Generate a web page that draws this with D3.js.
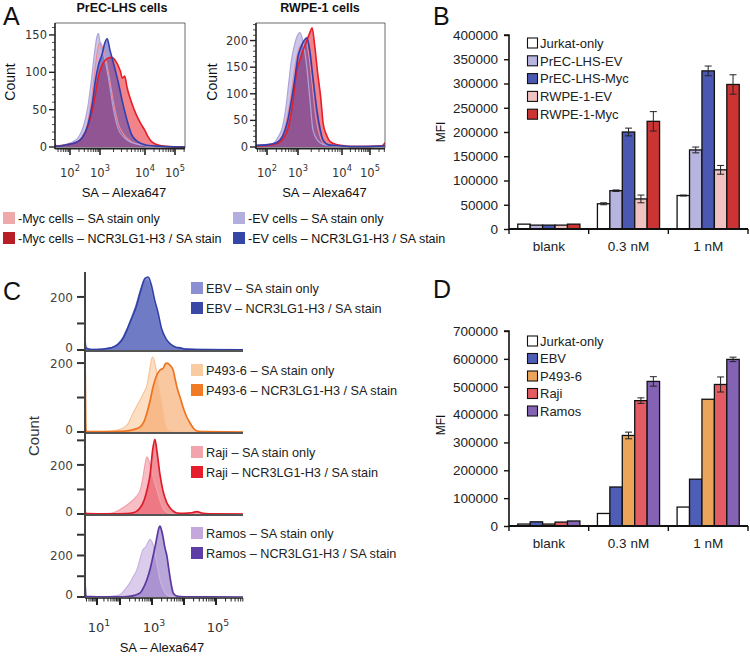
<!DOCTYPE html>
<html><head><meta charset="utf-8">
<script src="https://cdn.jsdelivr.net/npm/d3@7"></script>
<style>body{margin:0;background:#fff}svg{display:block}</style>
</head><body><svg id="c" width="750" height="657"></svg>
<script>
// ---------------- DATA ----------------
// Panel A: flow histograms, points are [log10(SA-Alexa647), count]
const aCells = ["PrEC-LHS cells", "RWPE-1 cells"];
const aLegend = ["-Myc cells \u2013 SA stain only", "-Myc cells \u2013 NCR3LG1-H3 / SA stain",
                 "-EV cells \u2013 SA stain only", "-EV cells \u2013 NCR3LG1-H3 / SA stain"];
const aPrecEvSA = [[1.5,1],[1.7,2],[1.9,4],[2.1,7],[2.3,14],[2.45,28],[2.6,55],[2.7,85],[2.8,120],[2.9,148],[2.95,152],[3.0,140],[3.1,120],[3.2,88],[3.3,50],[3.4,25],[3.55,12],[3.7,6],[3.9,3],[4.2,1],[4.6,1],[5.33,0]];
const aPrecEvNCR = [[1.5,4],[1.55,1],[1.9,3],[2.2,6],[2.4,12],[2.6,30],[2.75,60],[2.85,90],[2.95,110],[3.05,125],[3.1,138],[3.16,145],[3.22,130],[3.3,112],[3.4,88],[3.5,60],[3.6,36],[3.7,17],[3.8,9],[3.9,5],[4.1,2],[4.5,1],[5.33,0]];
const aPrecMycSA = [[1.5,1],[1.9,3],[2.2,6],[2.4,12],[2.6,35],[2.75,75],[2.85,110],[2.95,135],[3.0,140],[3.1,125],[3.2,95],[3.3,60],[3.4,32],[3.55,15],[3.7,7],[3.9,3],[4.3,1],[5.33,0]];
const aPrecMycNCR = [[1.5,1],[1.9,3],[2.2,6],[2.4,12],[2.6,28],[2.8,60],[2.95,95],[3.05,110],[3.15,118],[3.25,120],[3.35,115],[3.45,102],[3.5,92],[3.55,95],[3.6,80],[3.7,60],[3.8,44],[3.9,32],[4.0,22],[4.1,14],[4.2,8],[4.35,4],[4.5,2],[4.7,1],[5.33,0]];
const aRwpeEvSA = [[1.65,3],[2.0,5],[2.2,7],[2.35,18],[2.5,38],[2.6,70],[2.7,120],[2.78,160],[2.88,190],[2.95,205],[3.05,215],[3.12,195],[3.2,150],[3.27,90],[3.34,32],[3.45,12],[3.57,5],[3.8,2],[4.5,1],[5.5,2]];
const aRwpeEvNCR = [[1.65,3],[2.0,4],[2.3,8],[2.5,20],[2.65,45],[2.78,85],[2.9,130],[3.0,170],[3.08,190],[3.14,200],[3.2,205],[3.27,180],[3.34,130],[3.43,69],[3.5,35],[3.57,13],[3.7,4],[4.0,2],[4.5,1],[5.5,2]];
const aRwpeMycSA = [[1.65,2],[2.0,4],[2.3,8],[2.5,22],[2.65,55],[2.78,100],[2.9,150],[3.0,180],[3.1,195],[3.18,200],[3.25,170],[3.32,120],[3.4,60],[3.5,20],[3.6,6],[3.8,2],[4.5,1],[5.5,3]];
const aRwpeMycNCR = [[1.65,2],[2.0,3],[2.3,6],[2.5,14],[2.7,40],[2.85,90],[2.95,140],[3.05,165],[3.11,180],[3.2,200],[3.27,215],[3.32,224],[3.38,190],[3.45,137],[3.52,90],[3.57,45],[3.65,22],[3.73,10],[3.9,4],[4.1,2],[4.5,1],[5.4,2],[5.5,8]];
const aYTicksL = [0, 50, 100, 150];
const aYTicksR = [0, 50, 100, 150, 200];
const aXTicks = [2, 3, 4, 5];

// Panel B: MFI bars
const bGroups = ["blank", "0.3 nM", "1 nM"];
const bSeries = ["Jurkat-only", "PrEC-LHS-EV", "PrEC-LHS-Myc", "RWPE-1-EV", "RWPE-1-Myc"];
const bValues = [[10000, 8000, 8000, 8000, 10000],
                 [52000, 79000, 200000, 62000, 222000],
                 [69000, 163000, 326000, 122000, 298000]];
const bErrors = [[0, 0, 0, 0, 0],
                 [2000, 1500, 8000, 8000, 20000],
                 [1000, 6000, 10000, 9000, 20000]];
const bYTicks = [0, 50000, 100000, 150000, 200000, 250000, 300000, 350000, 400000];

// Panel C: stacked flow histograms
const cLegend = [["EBV \u2013 SA stain only", "EBV \u2013 NCR3LG1-H3 / SA stain"],
                 ["P493-6 \u2013 SA stain only", "P493-6 \u2013 NCR3LG1-H3 / SA stain"],
                 ["Raji \u2013 SA stain only", "Raji \u2013 NCR3LG1-H3 / SA stain"],
                 ["Ramos \u2013 SA stain only", "Ramos \u2013 NCR3LG1-H3 / SA stain"]];
const cEbvSA = [[0.4,35],[0.45,6],[0.7,2],[1.2,3],[1.6,8],[1.9,22],[2.1,50],[2.2,75],[2.35,120],[2.5,170],[2.65,230],[2.76,262],[2.85,265],[2.95,240],[3.06,185],[3.16,140],[3.28,80],[3.42,40],[3.6,18],[3.75,9],[3.88,7],[4.0,4],[4.4,2],[5.85,1]];
const cEbvNCR = [[0.4,40],[0.45,8],[0.7,2],[1.2,3],[1.6,8],[1.9,20],[2.1,45],[2.2,70],[2.35,115],[2.5,160],[2.65,225],[2.78,270],[2.88,275],[2.98,245],[3.08,190],[3.18,145],[3.3,80],[3.45,40],[3.6,20],[3.75,10],[3.88,8],[4.0,4],[4.4,2],[5.85,1]];
const cP493SA = [[0.4,2],[1.2,1],[1.7,3],[2.0,8],[2.22,20],[2.41,55],[2.63,93],[2.75,115],[2.84,135],[2.92,175],[3.0,215],[3.03,217],[3.1,195],[3.16,165],[3.25,120],[3.34,70],[3.42,25],[3.5,6],[3.7,2],[4.2,1],[5.85,0]];
const cP493NCR = [[0.4,250],[0.45,2],[1.5,1],[2.0,2],[2.22,3],[2.45,8],[2.63,15],[2.75,30],[2.84,55],[2.95,95],[3.03,130],[3.15,165],[3.25,180],[3.35,185],[3.42,198],[3.47,200],[3.55,195],[3.66,180],[3.72,155],[3.78,130],[3.88,100],[3.97,72],[4.08,45],[4.19,26],[4.3,10],[4.41,3],[4.7,1],[5.85,0]];
const cRajiSA = [[0.4,2],[1.0,1],[1.57,3],[1.85,10],[2.09,25],[2.3,45],[2.5,70],[2.63,96],[2.72,150],[2.78,200],[2.84,233],[2.92,210],[3.0,170],[3.08,130],[3.16,96],[3.25,55],[3.34,25],[3.45,8],[3.56,3],[3.8,1],[5.85,0]];
const cRajiNCR = [[0.4,15],[0.45,2],[1.5,1],[2.2,2],[2.41,5],[2.63,25],[2.75,55],[2.84,96],[2.95,170],[3.02,260],[3.09,304],[3.16,250],[3.25,160],[3.34,96],[3.45,50],[3.56,25],[3.68,10],[3.78,4],[4.0,3],[4.25,5],[4.4,10],[4.55,4],[4.8,1],[5.85,0]];
const cRamosSA = [[0.4,20],[0.45,1],[1.13,0],[1.6,3],[2.0,10],[2.15,35],[2.31,68],[2.42,100],[2.53,132],[2.62,180],[2.72,229],[2.8,240],[2.88,265],[2.94,278],[3.0,265],[3.03,254],[3.1,205],[3.16,156],[3.25,83],[3.33,45],[3.41,20],[3.56,3],[3.8,1],[5.85,0]];
const cRamosNCR = [[0.4,80],[0.45,3],[1.0,1],[2.0,1],[2.22,2],[2.45,8],[2.63,20],[2.75,50],[2.84,83],[2.95,140],[3.03,195],[3.1,245],[3.16,293],[3.22,335],[3.25,341],[3.3,320],[3.34,293],[3.4,240],[3.47,195],[3.52,140],[3.56,98],[3.62,45],[3.66,20],[3.75,6],[3.88,2],[4.2,1],[5.85,0]];
const cXTicks = [1, 3, 5];

// Panel D: MFI bars
const dGroups = ["blank", "0.3 nM", "1 nM"];
const dSeries = ["Jurkat-only", "EBV", "P493-6", "Raji", "Ramos"];
const dValues = [[7000, 15000, 7000, 14000, 18000],
                 [45000, 140000, 325000, 450000, 519000],
                 [68000, 168000, 455000, 508000, 598000]];
const dErrors = [[0, 0, 0, 0, 0],
                 [0, 0, 12000, 10000, 17000],
                 [0, 0, 0, 27000, 8000]];
const dYTicks = [0, 100000, 200000, 300000, 400000, 500000, 600000, 700000];

// ---------------- DRAWING ----------------
const SANS = "'Liberation Sans', Arial, Helvetica, sans-serif";
const DJ = "'DejaVu Sans', Verdana, sans-serif";
const svg = d3.select("#c");
const defs = svg.append("defs");
let clipN = 0;
function clip(x0, y0, x1, y1) {
  const id = "cl" + (clipN++);
  defs.append("clipPath").attr("id", id).append("rect")
    .attr("x", x0).attr("y", y0).attr("width", x1 - x0).attr("height", y1 - y0);
  return "url(#" + id + ")";
}
function txt(g, x, y, s, size, o = {}) {
  return g.append("text").attr("x", x).attr("y", y).text(s)
    .attr("font-family", o.family || SANS).attr("font-size", size)
    .attr("font-weight", o.weight || "normal").attr("fill", o.fill || "#111")
    .attr("text-anchor", o.anchor || "start");
}
function supLabel(g, x, y, base, exp, size, fill) {
  const t = g.append("text").attr("x", x).attr("y", y).attr("text-anchor", "middle")
    .attr("font-family", DJ).attr("font-size", size).attr("fill", fill);
  t.append("tspan").text(base);
  t.append("tspan").attr("dy", -size * 0.5).attr("font-size", size * 0.72).text(exp);
}
function hist(g, x, y, curves, cp) {
  const area = d3.area().x(d => x(d[0])).y0(y(0)).y1(d => y(d[1])).curve(d3.curveMonotoneX);
  const line = d3.line().x(d => x(d[0])).y(d => y(d[1])).curve(d3.curveMonotoneX);
  const gg = g.append("g").attr("clip-path", cp);
  curves.forEach(c => gg.append("path").attr("d", area(c.data)).attr("fill", c.fill).attr("fill-opacity", c.fo));
  curves.forEach(c => gg.append("path").attr("d", line(c.data)).attr("fill", "none")
    .attr("stroke", c.stroke).attr("stroke-width", c.sw || 1.5).attr("stroke-linejoin", "round"));
}
function logTicks(lo, hi) {
  const out = [];
  for (let d = Math.floor(lo); d <= Math.ceil(hi); d++)
    for (let k = 1; k <= 9; k++) {
      const v = d + Math.log10(k);
      if (v >= lo && v <= hi) out.push({v, major: k === 1});
    }
  return out;
}

// panel letters
txt(svg, 3, 25, "A", 25);
txt(svg, 433, 25, "B", 25);
txt(svg, 3, 300, "C", 25);
txt(svg, 433, 298, "D", 25);

// ---- Panel A ----
const aPanels = [
  {title: aCells[0], xd: [1.5, 2, 3, 4, 5, 5.33], xr: [55, 70, 100, 145, 175, 185], ymax: 166,
   yticks: aYTicksL, curves: [aPrecMycSA, aPrecEvSA, aPrecMycNCR, aPrecEvNCR], countX: 11, cx: 122},
  {title: aCells[1], xd: [1.65, 2, 3, 4, 5, 5.5], xr: [256, 267, 298, 342, 370, 385], ymax: 233,
   yticks: aYTicksR, curves: [aRwpeMycSA, aRwpeEvSA, aRwpeMycNCR, aRwpeEvNCR], countX: 213, cx: 320}
];
const aStyles = [
  {fill: "#f2a6ae", fo: 0.6, stroke: "#f08a96", sw: 1.2},
  {fill: "#b0a8dc", fo: 0.65, stroke: "#ada4da", sw: 1.2},
  {fill: "#e8303a", fo: 0.6, stroke: "#e61e28", sw: 1.6},
  {fill: "#5448ac", fo: 0.55, stroke: "#3040b0", sw: 1.6}
];
aPanels.forEach(p => {
  const g = svg.append("g");
  const x = d3.scaleLinear().domain(p.xd).range(p.xr);
  const y = d3.scaleLinear().domain([0, p.ymax]).range([147, 23]);
  const X0 = p.xr[0], X1 = p.xr[p.xr.length - 1];
  hist(g, x, y, p.curves.map((d, i) => Object.assign({data: d}, aStyles[i])), clip(X0, 23, X1, 148));
  // frame
  g.append("line").attr("x1", X0).attr("x2", X1).attr("y1", 23).attr("y2", 23).attr("stroke", "#444").attr("stroke-width", 0.8);
  g.append("line").attr("x1", X1).attr("x2", X1).attr("y1", 23).attr("y2", 148).attr("stroke", "#444").attr("stroke-width", 0.8);
  g.append("line").attr("x1", X0).attr("x2", X0).attr("y1", 23).attr("y2", 149).attr("stroke", "#222").attr("stroke-width", 1.6);
  g.append("line").attr("x1", X0).attr("x2", X1).attr("y1", 148.5).attr("y2", 148.5).attr("stroke", "#222").attr("stroke-width", 1.8);
  // y ticks
  d3.range(0, p.ymax, 10).forEach(v => {
    const maj = p.yticks.includes(v);
    g.append("line").attr("x1", X0).attr("x2", X0 - (maj ? 6 : 3)).attr("y1", y(v)).attr("y2", y(v))
      .attr("stroke", "#222").attr("stroke-width", maj ? 1.4 : 0.8);
  });
  p.yticks.forEach(v => txt(g, X0 - 8, y(v) + 4, String(v), 11.5, {family: DJ, anchor: "end", fill: "#333"}));
  // x ticks
  logTicks(p.xd[0], p.xd[p.xd.length - 1]).forEach(t => {
    g.append("line").attr("x1", x(t.v)).attr("x2", x(t.v)).attr("y1", 149).attr("y2", 149 + (t.major ? 6 : 3))
      .attr("stroke", "#222").attr("stroke-width", t.major ? 1.6 : 0.9);
  });
  aXTicks.forEach(v => supLabel(g, x(v), 177, "10", String(v), 11.5, "#333"));
  txt(g, p.cx, 12, p.title, 12.5, {weight: "bold", anchor: "middle"});
  txt(g, (X0 + X1) / 2 + 4, 197, "SA \u2013 Alexa647", 13, {anchor: "middle"});
  txt(g, 0, 0, "Count", 14, {anchor: "middle"}).attr("transform", `translate(${p.countX + 4},82) rotate(-90)`);
});
// legend A
const aLegColors = ["#eeaaaa", "#b81e26", "#b2aede", "#3446a6"];
aLegend.forEach((s, i) => {
  const col = Math.floor(i / 2), row = i % 2;
  const lx = col ? 233 : 3, ly = 218 + row * 20;
  svg.append("rect").attr("x", lx).attr("y", ly - 6).attr("width", 12).attr("height", 12).attr("fill", aLegColors[i]);
  txt(svg, lx + 15, ly + 4.5, s, 12.5);
});

// ---- Bar charts B and D ----
function barChart(o) {
  const g = svg.append("g");
  const y = d3.scaleLinear().domain([0, o.ticks[o.ticks.length - 1]]).range([o.y0, o.y1]);
  const x0 = d3.scaleBand().domain(o.groups).range([509, 748]).paddingInner(0.22).paddingOuter(0.11);
  const x1 = d3.scaleBand().domain(o.series).range([0, x0.bandwidth()]);
  o.groups.forEach((grp, gi) => o.series.forEach((s, si) => {
    const v = o.values[gi][si];
    g.append("rect").attr("x", x0(grp) + x1(s)).attr("y", y(v)).attr("width", x1.bandwidth())
      .attr("height", y(0) - y(v)).attr("fill", o.colors[si]).attr("stroke", "#111").attr("stroke-width", 1.3);
  }));
  o.groups.forEach((grp, gi) => o.series.forEach((s, si) => {
    const v = o.values[gi][si], e = o.errors[gi][si];
    if (!e) return;
    const cx = x0(grp) + x1(s) + x1.bandwidth() / 2;
    g.append("line").attr("x1", cx).attr("x2", cx).attr("y1", y(v - e)).attr("y2", y(v + e)).attr("stroke", "#222").attr("stroke-width", 1);
    [v - e, v + e].forEach(w => g.append("line").attr("x1", cx - 3.5).attr("x2", cx + 3.5).attr("y1", y(w)).attr("y2", y(w)).attr("stroke", "#222").attr("stroke-width", 1));
  }));
  // y axis
  const ya = g.append("g").attr("transform", "translate(509,0)")
    .call(d3.axisLeft(y).tickValues(o.ticks).tickSize(5).tickPadding(6).tickFormat(d3.format("d")));
  ya.select(".domain").attr("stroke", "#111").attr("stroke-width", 1.6).attr("d", `M-5,${y(o.ticks[o.ticks.length-1])}H0V${y(0)}`);
  ya.selectAll(".tick line").attr("stroke", "#111").attr("stroke-width", 1.4);
  ya.selectAll(".tick text").attr("font-family", SANS).attr("font-size", 13.5).attr("fill", "#222");
  // x axis
  g.append("line").attr("x1", 509).attr("x2", 748).attr("y1", y(0)).attr("y2", y(0)).attr("stroke", "#111").attr("stroke-width", 1.8);
  d3.range(0, o.groups.length + 1).forEach(i => {
    const bx = 509 + i * x0.step();
    g.append("line").attr("x1", bx).attr("x2", bx).attr("y1", y(0)).attr("y2", y(0) + 5).attr("stroke", "#111").attr("stroke-width", 1.4);
  });
  o.groups.forEach(grp => txt(g, x0(grp) + x0.bandwidth() / 2, y(0) + 22, grp, 13.5, {anchor: "middle", fill: "#222"}));
  txt(g, 0, 0, "MFI", 12, {anchor: "middle"}).attr("transform", `translate(445,${o.mfiY}) rotate(-90)`);
  // legend
  o.series.forEach((s, i) => {
    const ly = o.legY + i * o.legStep;
    g.append("rect").attr("x", 527.5).attr("y", ly - 5).attr("width", 10).attr("height", 10)
      .attr("fill", o.colors[i]).attr("stroke", "#111").attr("stroke-width", 1.1);
    txt(g, 540, ly + 4.7, s, 13, {fill: "#222"});
  });
}
barChart({groups: bGroups, series: bSeries, values: bValues, errors: bErrors, ticks: bYTicks,
  y0: 229, y1: 35, mfiY: 132, legY: 43, legStep: 17.8,
  colors: ["#ffffff", "#b7b4e0", "#4a58b2", "#f0c2c2", "#cc3434"]});
barChart({groups: dGroups, series: dSeries, values: dValues, errors: dErrors, ticks: dYTicks,
  y0: 526, y1: 331, mfiY: 425, legY: 341, legStep: 17.5,
  colors: ["#ffffff", "#4e5db6", "#eba55a", "#e35c63", "#8563b4"]});

// ---- Panel C ----
const cx = d3.scaleLinear().domain([0.4, 1, 2, 3, 4, 5, 5.85]).range([85, 97, 120, 152, 184, 216, 243]);
const cPanels = [
  {top: 272, bottom: 350, max: 294, ticks: [0, 100, 200], curves: [cEbvSA, cEbvNCR],
   st: [{fill: "#8e96d4", fo: 0.75, stroke: "#7c84cc", sw: 1.2}, {fill: "#4050b0", fo: 0.55, stroke: "#3040a6", sw: 1.6}],
   sw: ["#8c90d2", "#3a48a6"], legY: 288},
  {top: 351, bottom: 432, max: 235, ticks: [0, 100, 200], curves: [cP493SA, cP493NCR],
   st: [{fill: "#fbd6b4", fo: 0.8, stroke: "#f7c49a", sw: 1.2}, {fill: "#f5a261", fo: 0.6, stroke: "#ee7422", sw: 1.7}],
   sw: ["#f9cba0", "#f07a26"], legY: 370},
  {top: 433, bottom: 514, max: 330, ticks: [0, 100, 200, 300], curves: [cRajiSA, cRajiNCR],
   st: [{fill: "#f4aab2", fo: 0.75, stroke: "#f2a0aa", sw: 1.2}, {fill: "#e84a56", fo: 0.6, stroke: "#e01a2a", sw: 1.7}],
   sw: ["#f2a4ac", "#e41c2c"], legY: 452},
  {top: 515, bottom: 597, max: 395, ticks: [0, 100, 200, 300], curves: [cRamosSA, cRamosNCR],
   st: [{fill: "#d2bfe6", fo: 0.8, stroke: "#c8b2e0", sw: 1.2}, {fill: "#8a6cc0", fo: 0.6, stroke: "#5a38a0", sw: 1.7}],
   sw: ["#c4a8dc", "#5c3ea4"], legY: 533}
];
cPanels.forEach((p, pi) => {
  const g = svg.append("g");
  const y = d3.scaleLinear().domain([0, p.max]).range([p.bottom, p.top]);
  hist(g, cx, y, p.curves.map((d, i) => Object.assign({data: d}, p.st[i])), clip(85, p.top, 243, p.bottom));
  g.append("line").attr("x1", 85).attr("x2", 243).attr("y1", p.bottom + 1).attr("y2", p.bottom + 1)
    .attr("stroke", "#555").attr("stroke-width", 2);
  p.ticks.forEach(v => {
    g.append("line").attr("x1", 84).attr("x2", 77).attr("y1", y(v)).attr("y2", y(v)).attr("stroke", "#333").attr("stroke-width", 2);
    if (v === 0 || v === 200) txt(g, 73, y(v) + (v === 0 ? 2 : 5), String(v), 12, {family: DJ, anchor: "end", fill: "#444"});
  });
  cLegend[pi].forEach((s, i) => {
    const ly = p.legY + i * 20;
    g.append("rect").attr("x", 191).attr("y", ly - 6).attr("width", 12).attr("height", 12).attr("fill", p.sw[i]);
    txt(g, 206, ly + 4.5, s, 12.7, {fill: "#222"});
  });
});
svg.append("line").attr("x1", 85).attr("x2", 85).attr("y1", 272).attr("y2", 598).attr("stroke", "#444").attr("stroke-width", 2);
logTicks(0.4, 5.85).forEach(t => {
  svg.append("line").attr("x1", cx(t.v)).attr("x2", cx(t.v)).attr("y1", 598).attr("y2", 598 + (t.major ? 7 : 3.5))
    .attr("stroke", "#222").attr("stroke-width", t.major ? 2 : 1);
});
cXTicks.forEach(v => supLabel(svg, cx(v) + 2, 632, "10", String(v), 13, "#333"));
txt(svg, 162, 652, "SA \u2013 Alexa647", 13, {anchor: "middle"});
txt(svg, 0, 0, "Count", 15, {anchor: "middle", fill: "#333"}).attr("transform", "translate(39,436) rotate(-90)");
</script></body></html>
